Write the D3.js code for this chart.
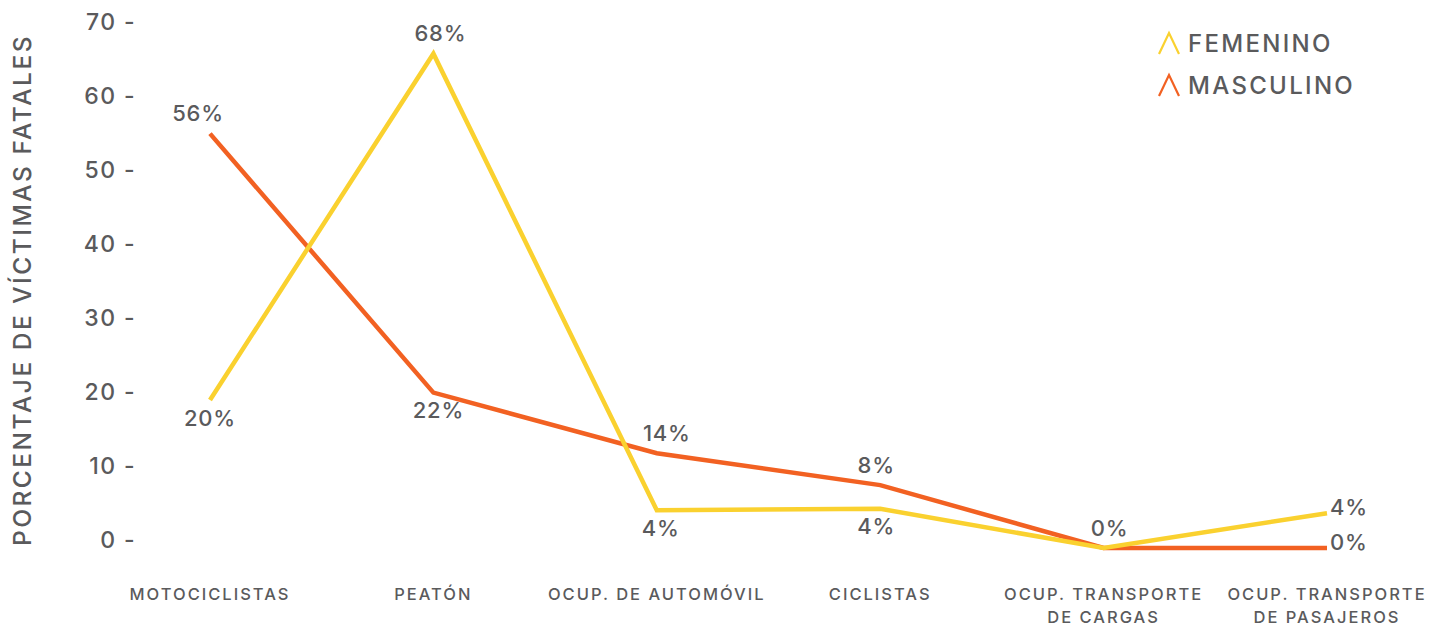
<!DOCTYPE html>
<html>
<head>
<meta charset="utf-8">
<script src="https://cdn.jsdelivr.net/npm/d3@7/dist/d3.min.js"></script>
<style>
  html, body { margin: 0; padding: 0; background: #fff; }
  svg { display: block; font-family: "Inter", "Lato", sans-serif; font-weight: 500; }
</style>
</head>
<body>
<svg id="chart" width="1446" height="626"></svg>
<script>
// ---- data ----
const categories = ["MOTOCICLISTAS", "PEATÓN", "OCUP. DE AUTOMÓVIL", "CICLISTAS", "OCUP. TRANSPORTE\nDE CARGAS", "OCUP. TRANSPORTE\nDE PASAJEROS"];
const femenino = [20, 66.8, 5.1, 5.3, 0, 4.7];
const masculino = [56, 21, 12.8, 8.5, 0, 0];
const femeninoLabels = ["20%", "68%", "4%", "4%", "", "4%"];
const masculinoLabels = ["56%", "22%", "14%", "8%", "0%", "0%"];
const yTicks = [0, 10, 20, 30, 40, 50, 60, 70];
const seriesNames = ["FEMENINO", "MASCULINO"];

// ---- layout (label placement, not data) ----
const femeninoLabelSide = ["below", "above", "below", "below", "none", "right"];
const masculinoLabelSide = ["above", "below", "above", "above", "above", "right"];
const femeninoLabelDx = [0, 7, 4, -4, 0, 0];
const masculinoLabelDx = [-12, 5, 10, -4, 6, 0];

const svg = d3.select("#chart");
const colors = { FEMENINO: "#FAD12F", MASCULINO: "#F26122" };
const textColor = "#5a5a5c";

const x = d3.scalePoint().domain(categories).range([210, 1327]);
const y = d3.scaleLinear().domain([0, 70]).range([548, 30]);

// y axis tick labels
const yAxis = svg.append("g").attr("class", "y-axis");
yAxis.selectAll("text").data(yTicks).join("text")
  .attr("x", 136)
  .attr("y", d => y(d) - 8)
  .attr("dy", "0.35em")
  .attr("text-anchor", "end")
  .attr("fill", textColor)
  .style("font-size", "23px")
  .style("letter-spacing", "1.4px")
  .text(d => d + " -");

// y axis title
svg.append("text")
  .attr("transform", "translate(31,290) rotate(-90)")
  .attr("text-anchor", "middle")
  .attr("fill", textColor)
  .style("font-size", "24.5px")
  .style("letter-spacing", "2.5px")
  .text("PORCENTAJE DE VÍCTIMAS FATALES");

// x axis labels
const xAxis = svg.append("g").attr("class", "x-axis");
categories.forEach((c, i) => {
  const lines = c.split("\n");
  const t = xAxis.append("text")
    .attr("x", x(c))
    .attr("y", 600)
    .attr("text-anchor", "middle")
    .attr("fill", textColor)
    .style("font-size", "16.5px")
    .style("letter-spacing", "2px");
  lines.forEach((l, j) => {
    t.append("tspan").attr("x", x(c)).attr("dy", j === 0 ? 0 : 23).text(l);
  });
});

// lines
const line = d3.line().x((d, i) => x(categories[i])).y(d => y(d));
const series = [
  { name: "FEMENINO", values: femenino, labels: femeninoLabels, sides: femeninoLabelSide, dx: femeninoLabelDx },
  { name: "MASCULINO", values: masculino, labels: masculinoLabels, sides: masculinoLabelSide, dx: masculinoLabelDx }
];

[series[1], series[0]].forEach(s => {
  svg.append("path")
    .datum(s.values)
    .attr("fill", "none")
    .attr("stroke", colors[s.name])
    .attr("stroke-width", 4.5)
    .attr("stroke-linejoin", "miter")
    .attr("d", line);
});

// data labels
series.forEach(s => {
  s.values.forEach((v, i) => {
    const side = s.sides[i];
    if (side === "none" || !s.labels[i]) return;
    let lx = x(categories[i]) + s.dx[i], ly = y(v), anchor = "middle";
    if (side === "above") ly -= 20;
    else if (side === "below") ly += 18;
    else if (side === "right") { lx += 3; anchor = "start"; ly -= 6; }
    svg.append("text")
      .attr("x", lx)
      .attr("y", ly)
      .attr("dy", "0.35em")
      .attr("text-anchor", anchor)
      .attr("fill", textColor)
      .style("font-size", "22px")
      .style("letter-spacing", "0.8px")
      .text(s.labels[i]);
  });
});

// legend
const legend = svg.append("g").attr("class", "legend");
seriesNames.forEach((n, i) => {
  const cy = 44 + i * 42;
  legend.append("path")
    .attr("d", d3.line()([[1159, cy + 10], [1169, cy - 11], [1179, cy + 10]]))
    .attr("fill", "none")
    .attr("stroke", colors[n])
    .attr("stroke-width", 2.2);
  legend.append("text")
    .attr("x", 1188)
    .attr("y", cy)
    .attr("dy", "0.35em")
    .attr("fill", textColor)
    .style("font-size", "24px")
    .style("letter-spacing", "2.3px")
    .text(n);
});
</script>
</body>
</html>
